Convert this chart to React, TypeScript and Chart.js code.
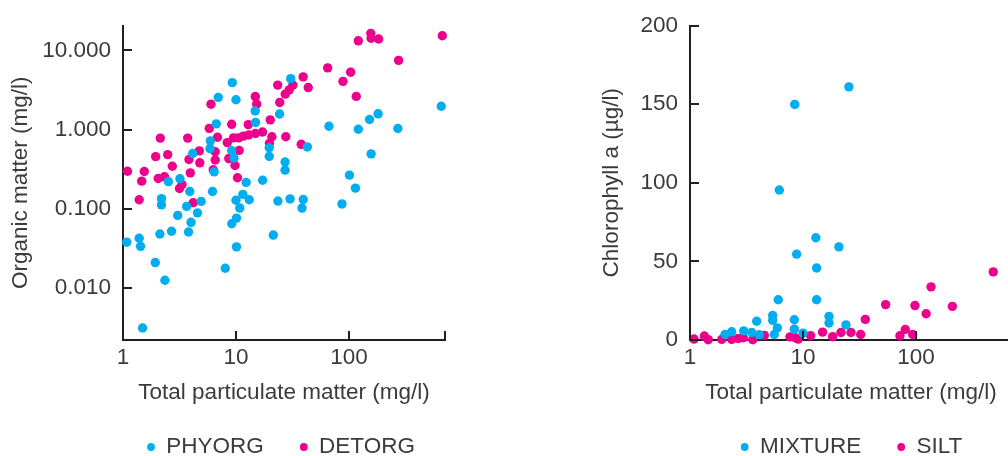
import React, { useEffect, useRef } from 'react';
import { Chart, registerables } from 'chart.js';

Chart.register(...registerables);

// ---------- Data ----------
// Left panel: Organic matter vs Total particulate matter (log-log)
const PHYORG_X = [9.27, 6.97, 10.0, 30.5, 14.8, 14.9, 6.69, 24.3, 5.93, 5.89, 4.14, 9.16, 9.6, 19.7, 19.7, 42.8, 27.2, 27.2, 6.41, 2.52, 3.19, 3.9, 6.2, 12.3, 17.2, 2.19, 2.19, 3.66, 4.92, 4.56, 10.0, 10.8, 11.5, 13.1, 23.5, 30.1, 39.4, 38.4, 3.05, 4.0, 10.1, 9.18, 2.12, 2.69, 3.8, 1.39, 1.08, 1.43, 21.4, 1.93, 2.35, 1.49, 8.04, 10.1, 66.5, 121, 152, 181, 271, 157, 656, 101, 114, 86.7];
const PHYORG_Y = [3.91, 2.55, 2.38, 4.39, 1.72, 1.23, 1.18, 1.57, 0.72, 0.573, 0.499, 0.541, 0.436, 0.589, 0.458, 0.603, 0.389, 0.307, 0.292, 0.22, 0.239, 0.165, 0.165, 0.215, 0.229, 0.134, 0.112, 0.107, 0.124, 0.0887, 0.128, 0.102, 0.152, 0.13, 0.125, 0.133, 0.131, 0.102, 0.0823, 0.0674, 0.0762, 0.0646, 0.048, 0.052, 0.0508, 0.0424, 0.0378, 0.0335, 0.0465, 0.0209, 0.0125, 0.00312, 0.0177, 0.033, 1.1, 1.01, 1.34, 1.58, 1.03, 0.493, 1.97, 0.266, 0.182, 0.115];

const DETORG_X = [1.096, 1.464, 1.543, 1.391, 1.947, 2.138, 2.052, 2.33, 2.487, 2.731, 3.162, 3.327, 3.738, 3.837, 3.941, 4.181, 4.735, 4.785, 5.8, 6.01, 6.29, 6.55, 6.55, 6.86, 8.38, 8.64, 9.16, 9.5, 9.8, 10.31, 10.67, 10.52, 11.6, 12.85, 12.98, 14.82, 15.25, 14.88, 17.17, 19.79, 20.1, 20.8, 23.4, 24.4, 27.6, 27.3, 29.6, 31.9, 37.8, 39.3, 43.6, 64.8, 88.5, 103.5, 116, 121, 156, 157, 183, 275, 670];
const DETORG_Y = [0.297, 0.223, 0.295, 0.13, 0.455, 0.78, 0.241, 0.253, 0.482, 0.344, 0.18, 0.202, 0.78, 0.418, 0.284, 0.119, 0.538, 0.38, 1.035, 2.09, 0.311, 0.525, 0.412, 0.8, 0.684, 0.43, 1.164, 0.784, 0.352, 0.246, 0.544, 0.784, 0.826, 1.154, 0.855, 2.61, 2.09, 0.892, 0.931, 0.67, 1.324, 0.811, 3.64, 2.2, 0.811, 2.8, 3.17, 3.64, 0.651, 4.62, 3.39, 6.01, 4.06, 5.3, 2.62, 13.2, 16.4, 14.2, 13.9, 7.47, 15.3];

// Right panel: Chlorophyll a vs Total particulate matter (log x, linear y)
const MIXTURE_X = [6.17, 8.45, 25.5, 13.0, 8.79, 13.2, 13.2, 6.04, 5.39, 5.39, 5.93, 5.57, 3.89, 3.52, 4.1, 2.99, 2.34, 2.04, 8.38, 8.38, 10.0, 17.0, 17.0, 20.8, 24.0];
const MIXTURE_Y = [95.4, 149.8, 161, 65, 54.6, 45.8, 25.6, 25.6, 15.6, 12.5, 7.7, 3.5, 11.9, 4.8, 3.3, 5.8, 5.2, 3.5, 12.9, 6.9, 4.4, 15, 10.8, 59.2, 9.6];

const SILT_X = [1.085, 1.34, 1.45, 1.91, 2.34, 2.68, 2.96, 3.59, 4.55, 7.67, 8.5, 9.09, 11.7, 14.9, 18.3, 21.7, 26.6, 32.4, 35.6, 53.9, 72.1, 80.4, 93.5, 98, 123, 136, 210, 483];
const SILT_Y = [0.6, 2.5, 0.2, 0.4, 0.4, 1.0, 1.4, 0.2, 2.9, 2.0, 1.4, 0.6, 2.7, 5.0, 2.1, 4.8, 4.8, 3.5, 13.1, 22.5, 2.7, 6.7, 3.5, 21.9, 16.7, 33.8, 21.4, 43.3];

// Axes
const X_MIN = 1;
const X_MAX = 708;
const X_TICKS = [1, 10, 100, X_MAX];
const X_TICK_LABELS = ['1', '10', '100', ''];

const OM_MIN = 0.0022;
const OM_MAX = 20.6;
const OM_TICKS = [0.01, 0.1, 1, 10];
const OM_TICK_LABELS = ['0.010', '0.100', '1.000', '10.000'];

const CHL_MIN = 0;
const CHL_MAX = 200;
const CHL_TICKS = [0, 50, 100, 150, 200];
const CHL_TICK_LABELS = ['0', '50', '100', '150', '200'];

// ---------- Styles ----------
const FONT_FAMILY = "'Liberation Sans', Arial, Helvetica, sans-serif";
const FS = 22.5;
const TEXT = '#3b3b3b';
const AXIS = '#231f20';
const CYAN = '#00aeef';
const MAGENTA = '#ec008c';
const CANVAS_H = 470;
const TICK_LEN = 9;

const inwardTicks = {
  id: 'inwardTicks',
  afterDatasetsDraw(chart: any) {
    const { ctx, chartArea } = chart;
    const xs = chart.scales.x;
    const ys = chart.scales.y;
    ctx.save();
    ctx.strokeStyle = AXIS;
    ctx.lineWidth = 2;
    ctx.beginPath();
    xs.ticks.forEach((t: any) => {
      const p = Math.round(xs.getPixelForValue(t.value));
      ctx.moveTo(p, chartArea.bottom);
      ctx.lineTo(p, chartArea.bottom - TICK_LEN);
    });
    ys.ticks.forEach((t: any) => {
      const p = Math.round(ys.getPixelForValue(t.value));
      ctx.moveTo(chartArea.left, p);
      ctx.lineTo(chartArea.left + TICK_LEN, p);
    });
    ctx.stroke();
    ctx.restore();
  },
};

type PanelProps = {
  left: number;
  width: number;
  yAxisWidth: number;
  rightWidth: number;
  yTitlePad: number;
  yTitle: string;
  yType: 'logarithmic' | 'linear';
  yMin: number;
  yMax: number;
  yTicks: number[];
  yTickLabels: string[];
  series: { label: string; xs: number[]; ys: number[]; color: string }[];
};

function Panel(p: PanelProps) {
  const ref = useRef<HTMLCanvasElement>(null);
  useEffect(() => {
    const font = { family: FONT_FAMILY, size: FS };
    const chart = new Chart(ref.current as HTMLCanvasElement, {
      type: 'scatter',
      data: {
        datasets: p.series.map((s) => ({
          label: s.label,
          data: s.xs.map((x, i) => ({ x, y: s.ys[i] })),
          backgroundColor: s.color,
          borderColor: s.color,
          borderWidth: 0,
          pointRadius: 4.7,
          pointHoverRadius: 4.7,
          pointStyle: 'circle',
          clip: false as any,
        })),
      },
      options: {
        animation: false,
        responsive: false,
        events: [],
        layout: { padding: { top: 20, bottom: 1.75, left: 0, right: 0 } },
        plugins: {
          legend: {
            position: 'bottom',
            labels: {
              usePointStyle: true,
              boxWidth: 8,
              boxHeight: 5.5,
              padding: 36,
              color: TEXT,
              font,
            },
          },
          tooltip: { enabled: false },
        },
        scales: {
          x: {
            type: 'logarithmic',
            position: 'bottom',
            min: X_MIN,
            max: X_MAX,
            grid: { display: false, drawTicks: false },
            border: { display: true, color: AXIS, width: 2 },
            ticks: {
              padding: 4.5,
              color: TEXT,
              font,
              autoSkip: false,
              maxRotation: 0,
              callback: (_v: any, i: number) => X_TICK_LABELS[i] ?? '',
            },
            afterBuildTicks: (s: any) => {
              s.ticks = X_TICKS.map((v) => ({ value: v }));
            },
            afterFit: (s: any) => {
              s.height = 59.75;
            },
            title: {
              display: true,
              text: 'Total particulate matter (mg/l)',
              color: TEXT,
              font,
              padding: { top: 0, bottom: -6.75 },
            },
          },
          y: {
            type: p.yType,
            position: 'left',
            min: p.yMin,
            max: p.yMax,
            grid: { display: false, drawTicks: false },
            border: { display: true, color: AXIS, width: 2 },
            ticks: {
              padding: 12,
              color: TEXT,
              font,
              autoSkip: false,
              callback: (_v: any, i: number) => p.yTickLabels[i] ?? '',
            },
            afterBuildTicks: (s: any) => {
              s.ticks = p.yTicks.map((v) => ({ value: v }));
            },
            afterFit: (s: any) => {
              s.width = p.yAxisWidth;
            },
            title: {
              display: true,
              text: p.yTitle,
              color: TEXT,
              font,
              padding: { top: p.yTitlePad, bottom: 0 },
            },
          } as any,
          spacer: {
            type: 'linear',
            position: 'right',
            display: true,
            grid: { display: false, drawTicks: false },
            border: { display: false },
            ticks: { display: false },
            afterFit: (s: any) => {
              s.width = p.rightWidth;
            },
          },
        },
      } as any,
      plugins: [inwardTicks],
    });
    return () => chart.destroy();
  }, []);
  return (
    <canvas
      ref={ref}
      width={p.width}
      height={CANVAS_H}
      style={{ position: 'absolute', left: p.left, top: 0, width: p.width, height: CANVAS_H, display: 'block' }}
    />
  );
}

export default function App() {
  return (
    <div
      style={{
        position: 'absolute',
        left: 0,
        top: 0,
        width: 1008,
        height: 456,
        overflow: 'hidden',
        background: '#ffffff',
      }}
    >
      <Panel
        left={0}
        width={562}
        yAxisWidth={123}
        rightWidth={117}
        yTitlePad={7.5}
        yTitle="Organic matter (mg/l)"
        yType="logarithmic"
        yMin={OM_MIN}
        yMax={OM_MAX}
        yTicks={OM_TICKS}
        yTickLabels={OM_TICK_LABELS}
        series={[
          { label: 'PHYORG', xs: PHYORG_X, ys: PHYORG_Y, color: CYAN },
          { label: 'DETORG', xs: DETORG_X, ys: DETORG_Y, color: MAGENTA },
        ]}
      />
      <Panel
        left={500}
        width={703}
        yAxisWidth={190}
        rightWidth={191}
        yTitlePad={98.5}
        yTitle="Chlorophyll a (µg/l)"
        yType="linear"
        yMin={CHL_MIN}
        yMax={CHL_MAX}
        yTicks={CHL_TICKS}
        yTickLabels={CHL_TICK_LABELS}
        series={[
          { label: 'MIXTURE', xs: MIXTURE_X, ys: MIXTURE_Y, color: CYAN },
          { label: 'SILT', xs: SILT_X, ys: SILT_Y, color: MAGENTA },
        ]}
      />
    </div>
  );
}
